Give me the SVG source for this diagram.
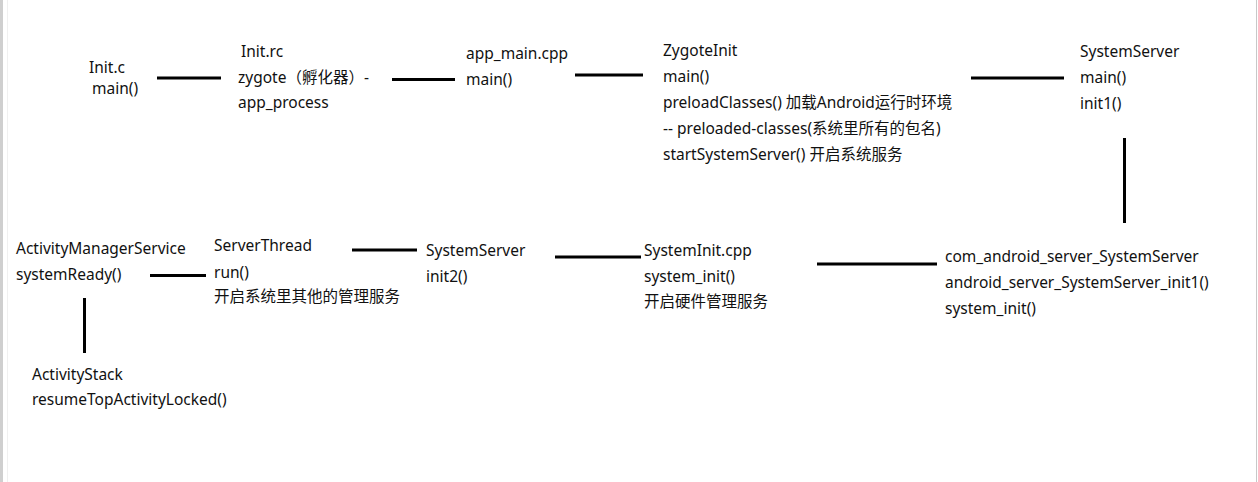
<svg xmlns="http://www.w3.org/2000/svg" width="1258" height="482" viewBox="0 0 1258 482">
<style>
text{font-family:"Noto Sans","Noto Sans CJK SC","Liberation Sans",sans-serif;font-size:15.5px;fill:#111}
.c line{stroke:#000;stroke-width:3}
</style>
<rect x="0" y="0" width="1258" height="482" fill="#fff"/>
<rect x="0" y="0" width="3" height="482" fill="#cfcfcf"/>
<line x1="7.5" y1="0" x2="7.5" y2="482" stroke="#f0f0f0" stroke-width="1"/>
<line x1="1256.5" y1="0" x2="1256.5" y2="482" stroke="#c8c8c8" stroke-width="1"/>
<g class="c" id="connectors">
<line x1="157" y1="78" x2="221" y2="78"/>
<line x1="392" y1="79.5" x2="455" y2="79.5"/>
<line x1="575" y1="75" x2="643" y2="75"/>
<line x1="971" y1="78" x2="1064" y2="78"/>
<line x1="1124.5" y1="138" x2="1124.5" y2="223"/>
<line x1="817" y1="264" x2="937" y2="264"/>
<line x1="555" y1="257" x2="641" y2="257"/>
<line x1="352" y1="250" x2="417" y2="250"/>
<line x1="150" y1="275.5" x2="206" y2="275.5"/>
<line x1="84.5" y1="298" x2="84.5" y2="353"/>
</g>
<g id="init_c"><text x="89" y="73">Init.c</text><text x="92" y="94">main()</text></g>
<g id="init_rc"><text x="241" y="57">Init.rc</text><text x="238" y="83">zygote（孵化器）-</text><text x="238" y="108">app_process</text></g>
<g id="app_main"><text x="466" y="59">app_main.cpp</text><text x="466" y="85">main()</text></g>
<g id="zygote_init"><text x="663" y="56">ZygoteInit</text><text x="663" y="82">main()</text><text x="663" y="108">preloadClasses() 加载Android运行时环境</text><text x="663" y="134">-- preloaded-classes(系统里所有的包名)</text><text x="663" y="160">startSystemServer() 开启系统服务</text></g>
<g id="system_server1"><text x="1080" y="57">SystemServer</text><text x="1080" y="83">main()</text><text x="1080" y="109">init1()</text></g>
<g id="com_android"><text x="945" y="262">com_android_server_SystemServer</text><text x="945" y="288">android_server_SystemServer_init1()</text><text x="945" y="314">system_init()</text></g>
<g id="system_init"><text x="644" y="256">SystemInit.cpp</text><text x="644" y="282">system_init()</text><text x="644" y="307">开启硬件管理服务</text></g>
<g id="system_server2"><text x="426" y="256">SystemServer</text><text x="426" y="282">init2()</text></g>
<g id="server_thread"><text x="214" y="251">ServerThread</text><text x="214" y="278">run()</text><text x="214" y="302">开启系统里其他的管理服务</text></g>
<g id="ams"><text x="16" y="254">ActivityManagerService</text><text x="16" y="280">systemReady()</text></g>
<g id="activity_stack"><text x="32" y="380">ActivityStack</text><text x="32" y="405">resumeTopActivityLocked()</text></g>
</svg>
